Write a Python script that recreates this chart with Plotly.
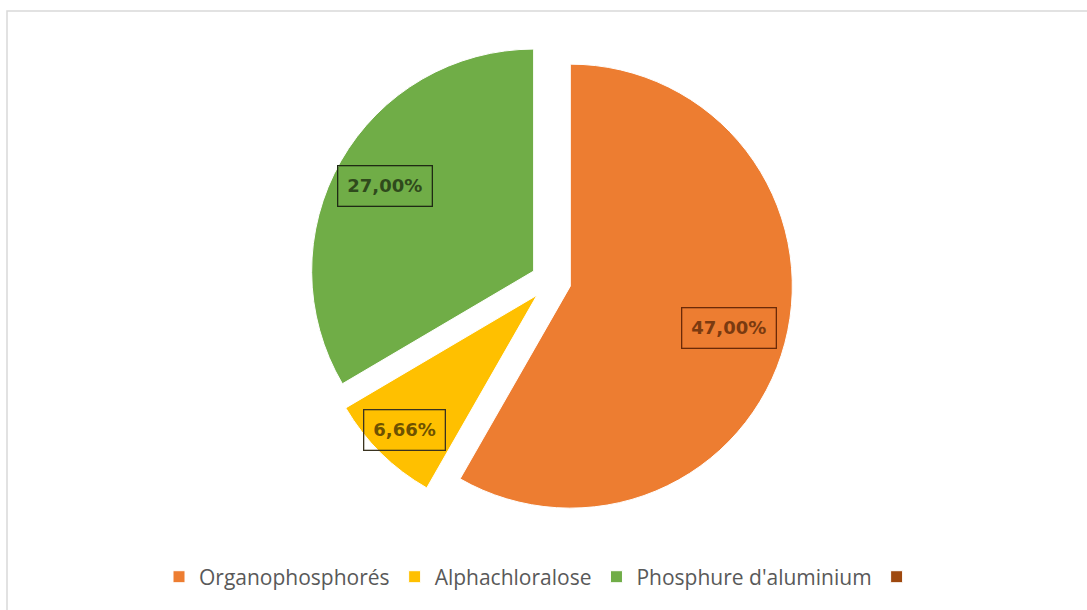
import math
import plotly.graph_objects as go

# Poisoning agents and their reported shares (%)
categories = ["Organophosphorés", "Alphachloralose", "Phosphure d'aluminium", " "]
shares = [47.00, 6.66, 27.00, 0]

# Styling
colors = ["#ED7D31", "#FFC000", "#70AD47", "#9E480E"]
label_text_colors = ["#7a3a10", "#6e5200", "#2f4a1c"]
label_border_colors = ["#6b2a08", "#3a3320", "#1f2a14"]
label_radius = [0.74, 0.85, 0.77]   # label distance from slice centre, in radii

W, H = 1087, 610
CX, CY, R, PULL = 551, 281, 222, 0.09   # pie centre / radius (px), explode fraction

half = R * (1 + PULL)
domain_x = [(CX - half) / W, (CX + half) / W]
domain_y = [1 - (CY + half) / H, 1 - (CY - half) / H]

fig = go.Figure(
    go.Pie(
        labels=categories,
        values=shares,
        marker=dict(colors=colors, line=dict(color="white", width=1)),
        sort=False,
        direction="clockwise",
        rotation=0,
        pull=PULL,
        textinfo="none",
        hoverinfo="label+value",
        domain=dict(x=domain_x, y=domain_y),
    )
)

# Boxed value labels placed along each slice's mid-angle
total = sum(shares)
cum = 0.0
annotations = []
for i, v in enumerate(shares[:3]):
    mid = (cum + v / 2) / total * 2 * math.pi
    cum += v
    dx, dy = math.sin(mid), -math.cos(mid)
    dist = (PULL + label_radius[i]) * R
    px, py = CX + dist * dx, CY + dist * dy
    annotations.append(
        dict(
            x=px / W, y=1 - py / H, xref="paper", yref="paper",
            text=f"{v:.2f}%".replace(".", ","),
            showarrow=False,
            font=dict(family="DejaVu Sans", size=18, color=label_text_colors[i],
                      weight="bold"),
            bordercolor=label_border_colors[i], borderwidth=1.3, borderpad=9,
            xanchor="center", yanchor="middle",
        )
    )

fig.update_layout(
    width=W, height=H,
    margin=dict(l=0, r=0, t=0, b=0),
    paper_bgcolor="white",
    showlegend=True,
    legend=dict(
        orientation="h", x=0.5, xanchor="center", y=0.054, yanchor="middle",
        font=dict(family="Open Sans", size=21, color="#595959"),
        traceorder="normal",
    ),
    annotations=annotations,
    shapes=[dict(type="rect", xref="paper", yref="paper",
                 x0=7 / W, x1=1.01, y0=-0.01, y1=1 - 11 / H,
                 line=dict(color="#d9d9d9", width=1.5))],
)

fig.write_html("out.html")
